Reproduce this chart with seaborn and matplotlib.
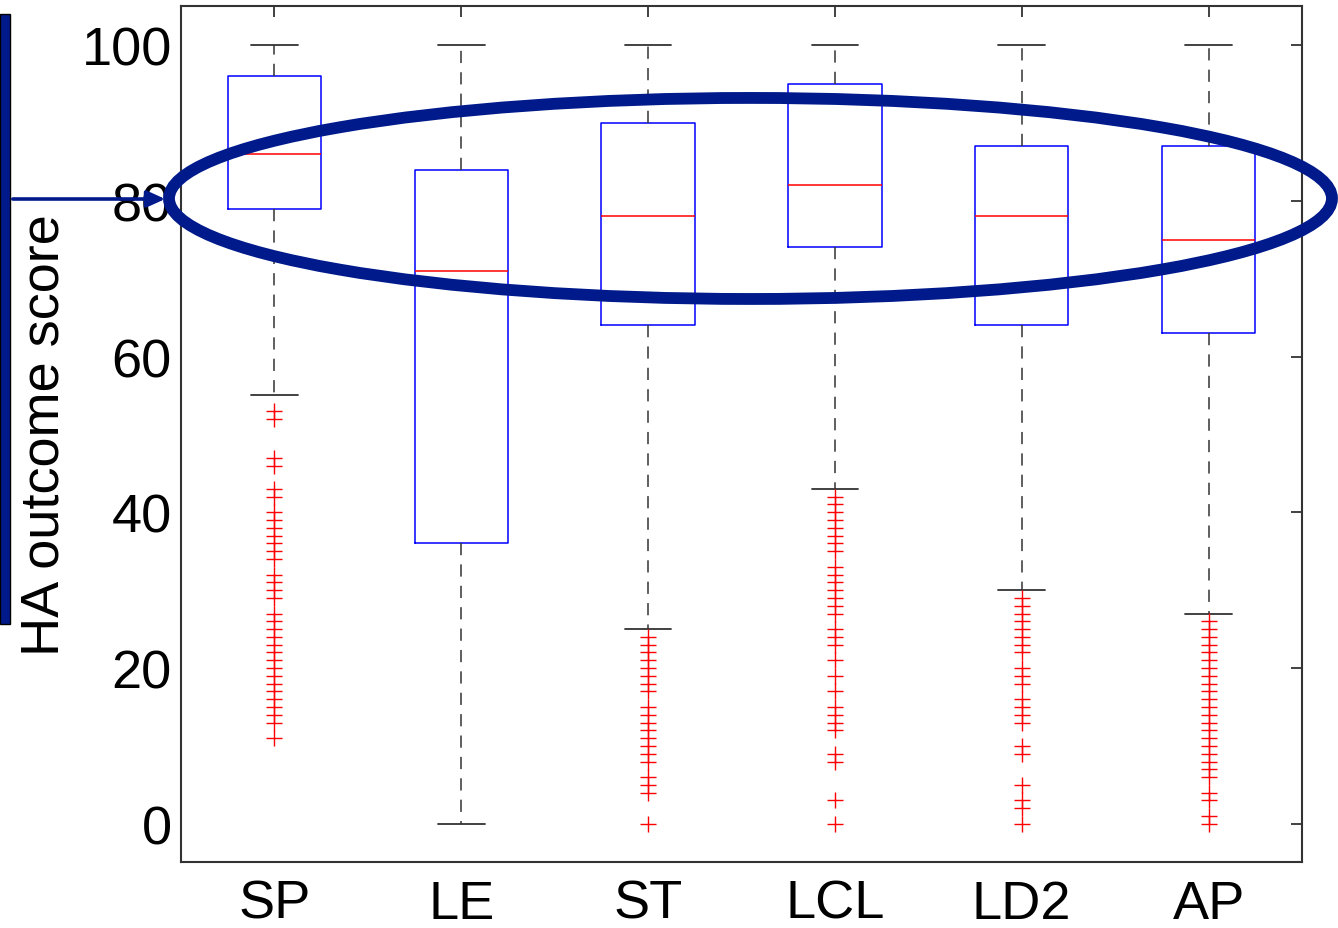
import matplotlib
matplotlib.use("Agg")
import matplotlib.pyplot as plt
from matplotlib.patches import Ellipse, Rectangle, FancyArrowPatch
import pandas as pd
import seaborn as sns

# Hearing-aid outcome score per fitting method
categories = ["SP", "LE", "ST", "LCL", "LD2", "AP"]
whisker_high = [100, 100, 100, 100, 100, 100]
q3 = [96, 84, 90, 95, 87, 87]
medians = [86, 71, 78, 82, 78, 75]
q1 = [79, 36, 64, 74, 64, 63]
whisker_low = [55, 0, 25, 43, 30, 27]

outliers_sp = [53, 52, 47, 46, 43, 42, 40, 39, 38, 37, 36, 35, 34, 32, 31, 30, 29,
               27, 26, 25, 24, 23, 22, 21, 20, 19, 18, 17, 16, 15, 14, 13, 11]
outliers_le = []
outliers_st = [24, 23, 22, 21, 20, 19, 18, 17, 15, 14, 13, 12, 11, 10, 9, 8, 6, 5, 4, 0]
outliers_lcl = [42, 41, 40, 39, 38, 37, 36, 35, 33, 32, 31, 30, 29, 28, 27, 25, 24,
                23, 21, 19, 17, 15, 14, 13, 12, 9, 8, 3, 0]
outliers_ld2 = [29, 28, 27, 26, 25, 24, 23, 22, 20, 19, 18, 16, 15, 14, 13, 10, 9,
                5, 3, 2, 0]
outliers_ap = [26, 25, 24, 23, 22, 21, 20, 19, 18, 17, 16, 15, 14, 13, 12, 11, 10,
               9, 8, 7, 6, 4, 3, 1, 0]
outliers = [outliers_sp, outliers_le, outliers_st, outliers_lcl, outliers_ld2, outliers_ap]

y_ticks = [0, 20, 40, 60, 80, 100]
y_label = "HA outcome score"

sns.set_theme(style="white")
plt.rcParams["font.family"] = ["Liberation Sans", "DejaVu Sans"]

W, H = 1338, 929
fig = plt.figure(figsize=(W / 100, H / 100), dpi=100)
ax = fig.add_axes([181 / W, 1 - 863 / H, 1121 / W, 856 / H])

positions = list(range(1, len(categories) + 1))
stats = []
for i, name in enumerate(categories):
    stats.append(dict(label=name, med=medians[i], q1=q1[i], q3=q3[i],
                      whislo=whisker_low[i], whishi=whisker_high[i], fliers=[]))

frame_col = "#333333"
ax.bxp(stats, positions=positions, widths=0.5, showfliers=False,
       boxprops=dict(color="#0000ff", linewidth=1.1),
       medianprops=dict(color="#ff0000", linewidth=1.1),
       whiskerprops=dict(color=frame_col, linewidth=1.1, linestyle=(0, (8, 6))),
       capprops=dict(color=frame_col, linewidth=1.3),
       capwidths=0.25)

# Outlying observations as red crosses
flier_df = pd.DataFrame({
    "pos": [positions[i] for i, vals in enumerate(outliers) for _ in vals],
    "score": [v for vals in outliers for v in vals],
})
sns.scatterplot(data=flier_df, x="pos", y="score", marker="+", s=130,
                color="#ff0000", linewidth=1.0, legend=False, ax=ax, zorder=3)

ax.set_xlim(0.5, 6.5)
ax.set_ylim(-4.9, 105)
ax.set_xticks(positions)
ax.set_xticklabels(categories)
ax.set_yticks(y_ticks)
ax.set_xlabel("")
ax.set_ylabel(y_label, fontsize=39, labelpad=9, color="black")
ax.tick_params(axis="both", direction="in", length=8, width=1.3, color=frame_col,
               labelsize=39, top=True, right=True, labelcolor="black")
ax.tick_params(axis="x", pad=12)
ax.tick_params(axis="y", pad=6.5)
for sp in ax.spines.values():
    sp.set_color(frame_col)
    sp.set_linewidth(1.5)

# Highlight overlay around the upper quartile region
navy = "#001a8c"
fig.add_artist(Ellipse((0.5609, 0.7853), 0.8692, 0.2164, transform=fig.transFigure,
                       fill=False, edgecolor=navy, linewidth=8.5, zorder=10))
fig.add_artist(Rectangle((0.0, 1 - 625 / H), 10 / W, 610 / H,
                         transform=fig.transFigure, facecolor=navy,
                         edgecolor="black", linewidth=1.0, zorder=10))
fig.add_artist(FancyArrowPatch((10 / W, 1 - 200 / H), (168 / W, 1 - 200 / H),
                               transform=fig.transFigure, color=navy, linewidth=2.6,
                               arrowstyle="-|>,head_length=1.1,head_width=0.5",
                               mutation_scale=10, zorder=11))

fig.savefig("out.png", dpi=100)
